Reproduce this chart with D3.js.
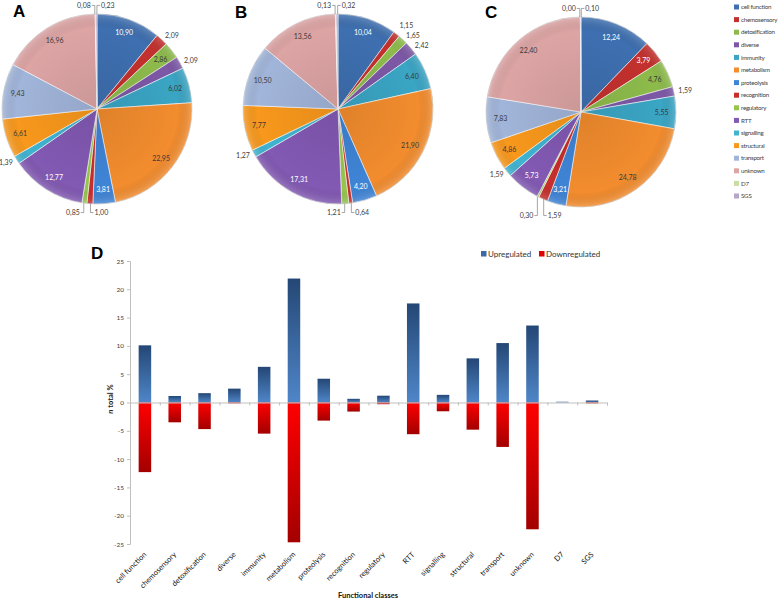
<!DOCTYPE html>
<html><head><meta charset="utf-8">
<script src="https://cdn.jsdelivr.net/npm/d3@7"></script>
<style>body{margin:0;background:#fff}svg{display:block;font-family:Lato,'Open Sans',sans-serif}</style>
</head><body><svg id="c" width="778" height="602"></svg>
<script>
// ---------- data ----------
const categories = ["cell function","chemosensory","detoxification","diverse","immunity","metabolism","proteolysis","recognition","regulatory","RTT","signalling","structural","transport","unknown","D7","SGS"];
const pieA = [10.90,2.09,2.86,2.09,6.02,22.95,3.81,1.00,0.85,12.77,1.39,6.61,9.43,16.96,0.08,0.23];
const pieB = [10.04,1.15,1.65,2.42,6.40,21.90,4.20,0.64,1.21,17.31,1.27,7.77,10.50,13.56,0.13,0.32];
const pieC = [12.24,3.79,4.76,1.59,5.55,24.78,3.21,1.59,0.30,5.73,1.59,4.86,7.83,22.40,0.00,0.10];
const upValues = [10.1,1.15,1.65,2.45,6.3,21.9,4.2,0.65,1.2,17.5,1.35,7.8,10.5,13.6,0.13,0.35];
const downValues = [-12.3,-3.5,-4.7,-0.15,-5.5,-24.7,-3.2,-1.6,-0.3,-5.6,-1.55,-4.8,-7.85,-22.4,0,-0.15];
const yTicks = [25,20,15,10,5,0,-5,-10,-15,-20,-25];
const seriesNames = ["Upregulated","Downregulated"];

// ---------- styles ----------
const colors = ["#3e6fb0","#c3312e","#8dbb4b","#7d58a6","#3aa5c4","#f28c2e","#3f84d6","#c62f2c","#95c54f","#8259b3","#40b3d0","#f8981c","#a1b5da","#dda4a4","#c8dca3","#b4a5c9"];
const svg = d3.select("#c");
const fmt = v => d3.format(".2f")(v).replace(".", ",");
const defs = svg.append("defs");

function letter(x, y, t){
  svg.append("text").attr("x",x).attr("y",y).text(t)
    .attr("font-family","'Liberation Sans',Arial,sans-serif").attr("font-weight","bold")
    .attr("font-size",17).attr("fill","#000");
}

function drawPie(values, cx, cy, r){
  const g = svg.append("g").attr("transform",`translate(${cx},${cy})`);
  const data = values.map((v,i)=>({v,i}));
  const arcs = d3.pie().sort(null).value(d=>d.v).startAngle(0).endAngle(2*Math.PI)(data);
  const arc = d3.arc().innerRadius(0).outerRadius(r);
  g.selectAll("path.s").data(arcs).join("path").attr("class","s")
    .attr("d",arc).attr("fill",d=>colors[d.data.i])
    .attr("stroke","#ffffff").attr("stroke-opacity",0.8).attr("stroke-width",0.7);
  const gid = "sh"+cx;
  const rg = defs.append("radialGradient").attr("id",gid).attr("cx","50%").attr("cy","50%").attr("r","50%");
  rg.append("stop").attr("offset","0%").attr("stop-color","#000").attr("stop-opacity",0.08);
  rg.append("stop").attr("offset","85%").attr("stop-color","#000").attr("stop-opacity",0.0);
  rg.append("stop").attr("offset","100%").attr("stop-color","#fff").attr("stop-opacity",0.18);
  g.append("circle").attr("r",r).attr("fill",`url(#${gid})`).attr("pointer-events","none");
  g.append("circle").attr("r",r).attr("fill","none").attr("stroke","#8a8a8a").attr("stroke-opacity",0.5).attr("stroke-width",0.6);

  const labels = arcs.map(a=>{
    const mid = (a.startAngle+a.endAngle)/2;
    const L = {a, mid, v:a.data.v, i:a.data.i, text:fmt(a.data.v)};
    if (a.data.v >= 2.5){
      L.inside = true;
      L.x = Math.sin(mid)*r*0.85; L.y = -Math.cos(mid)*r*0.85; L.anchor = "middle";
    } else {
      L.inside = false;
      L.x = Math.sin(mid)*r*1.05; L.y = -Math.cos(mid)*r*1.05;
      L.anchor = Math.sin(mid) >= 0 ? "start" : "end";
    }
    return L;
  });
  for (let k=0;k<labels.length-1;k++){
    const p = labels[k], q = labels[k+1];
    if (!p.inside && !q.inside && !p.paired && Math.abs(q.mid-p.mid) < 0.16 && Math.abs(Math.cos(p.mid))>0.9){
      const sgn = Math.cos(p.mid) > 0 ? -1 : 1;
      const ly = sgn*r*1.09;
      const pair = [p,q].map(L=>({L, ex:Math.sin(L.mid)*r, ey:-Math.cos(L.mid)*r}));
      pair.sort((u,w)=>u.ex-w.ex);
      pair.forEach((o,j)=>{
        const L = o.L; L.paired = true;
        const ex = o.ex + (j===0 ? -0.6 : 0.6);
        const tx = ex + (j===0 ? -3 : 3);
        L.leader = [[ex,o.ey],[ex,ly],[tx,ly]];
        L.x = tx + (j===0 ? -1 : 1); L.y = ly; L.anchor = j===0 ? "end" : "start";
      });
    }
  }
  ["start","end"].forEach(side=>{
    const list = labels.filter(L=>!L.inside && !L.paired && L.anchor===side).sort((u,w)=>w.y-u.y);
    for (let k=1;k<list.length;k++){
      if (list[k-1].y - list[k].y < 10) list[k].y = list[k-1].y - 10;
    }
  });
  labels.filter(L=>L.leader).forEach(L=>{
    g.append("polyline").attr("points",L.leader.map(p=>p.join(",")).join(" "))
      .attr("fill","none").attr("stroke","#808080").attr("stroke-width",0.7);
  });
  g.selectAll("text.l").data(labels).join("text").attr("class","l")
    .attr("x",d=>d.x).attr("y",d=>d.y).attr("dy","0.35em")
    .attr("text-anchor",d=>d.anchor).attr("font-size",7)
    .attr("fill",d=>{
      if (!d.inside) return "#404040";
      return d3.lab(colors[d.i]).l < 62 ? "#ffffff" : "#3a3a3a";
    })
    .text(d=>d.text);
}

letter(13,17,"A"); letter(235,18,"B"); letter(485,18,"C");
drawPie(pieA, 97, 109, 95);
drawPie(pieB, 338, 109, 95);
drawPie(pieC, 581, 112, 95);

// pie legend
const lg = svg.append("g");
categories.forEach((c,i)=>{
  const y = 7 + i*12.6;
  lg.append("rect").attr("x",734).attr("y",y-2.5).attr("width",5).attr("height",5).attr("fill",colors[i]);
  lg.append("text").attr("x",741).attr("y",y).attr("dy","0.35em")
    .attr("font-size",6.2).attr("letter-spacing",-0.25).attr("fill","#404040").text(c);
});

// ---------- bar chart ----------
letter(91,259,"D");
const gu = defs.append("linearGradient").attr("id","gUp").attr("x1",0).attr("y1",0).attr("x2",0).attr("y2",1);
gu.append("stop").attr("offset","0%").attr("stop-color","#244775");
gu.append("stop").attr("offset","100%").attr("stop-color","#4f86c8");
const gd = defs.append("linearGradient").attr("id","gDown").attr("x1",0).attr("y1",0).attr("x2",0).attr("y2",1);
gd.append("stop").attr("offset","0%").attr("stop-color","#ff0000");
gd.append("stop").attr("offset","100%").attr("stop-color","#a30000");

const x = d3.scaleBand().domain(categories).range([130,607]).paddingInner(0.58).paddingOuter(0.29);
const xEdge = d3.scaleLinear().domain([0,categories.length]).range([130,607]);
const y = d3.scaleLinear().domain([-25,25]).range([544,261]);

const yAx = svg.append("g").attr("transform","translate(130,0)")
  .call(d3.axisLeft(y).tickValues(yTicks).tickSize(3).tickPadding(3).tickFormat(d=>String(d)));
yAx.select(".domain").attr("stroke","#bfbfbf");
yAx.selectAll(".tick line").attr("stroke","#bfbfbf");
yAx.selectAll(".tick text").attr("font-size",6.5).attr("fill","#404040").attr("font-family","Lato,sans-serif");

svg.append("g").selectAll("rect.up").data(upValues).join("rect").attr("class","up")
  .attr("x",(d,i)=>x(categories[i])).attr("width",x.bandwidth())
  .attr("y",d=>y(d)).attr("height",d=>y(0)-y(d)).attr("fill","url(#gUp)");
svg.append("g").selectAll("rect.dn").data(downValues).join("rect").attr("class","dn")
  .attr("x",(d,i)=>x(categories[i])).attr("width",x.bandwidth())
  .attr("y",y(0)).attr("height",d=>y(d)-y(0)).attr("fill","url(#gDown)");

const xAx = svg.append("g").attr("transform",`translate(0,${y(0)})`)
  .call(d3.axisBottom(xEdge).tickValues(d3.range(categories.length+1)).tickSize(3).tickFormat(""));
xAx.select(".domain").attr("stroke","#bfbfbf");
xAx.selectAll(".tick line").attr("stroke","#bfbfbf");

svg.append("g").selectAll("text").data(categories).join("text")
  .attr("transform",c=>`translate(${x(c)+x.bandwidth()/2+2},555) rotate(-45)`)
  .attr("text-anchor","end").attr("font-size",7.5).attr("fill","#111").text(c=>c);

svg.append("text").attr("x",368).attr("y",598).attr("text-anchor","middle")
  .attr("font-size",7.5).attr("font-weight","bold").attr("fill","#111").text("Functional classes");

const yt = svg.append("text").attr("transform","translate(113,399) rotate(-90)")
  .attr("text-anchor","middle").attr("font-size",7.5).attr("font-weight","bold").attr("fill","#222");
yt.append("tspan").attr("font-style","italic").text("n");
yt.append("tspan").text(" total %");

// bar legend
const bl = svg.append("g");
[481,539].forEach((lx,i)=>{
  bl.append("rect").attr("x",lx).attr("y",251).attr("width",5.5).attr("height",5.5).attr("fill",i===0?"#3a6aa8":"#e00000");
  bl.append("text").attr("x",lx+7).attr("y",254).attr("dy","0.35em").attr("font-size",8).attr("fill","#333").text(seriesNames[i]);
});
</script></body></html>
